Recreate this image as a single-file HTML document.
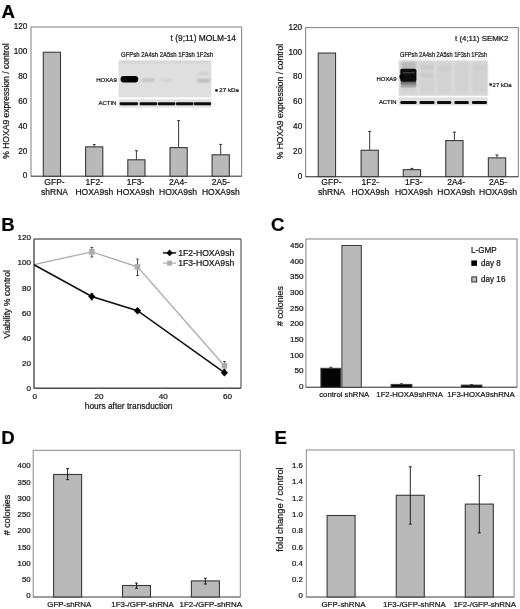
<!DOCTYPE html>
<html><head><meta charset="utf-8"><style>
html,body{margin:0;padding:0;background:#fff;}
body{width:520px;height:609px;overflow:hidden;}
svg{display:block;font-family:"Liberation Sans", sans-serif;filter:blur(0.3px);}
text{stroke:#1a1a1a;stroke-width:0.22px;}
</style></head><body>
<svg width="520" height="609" viewBox="0 0 520 609" font-family='"Liberation Sans", sans-serif'>
<rect width="520" height="609" fill="#fff"/>
<text x="1.6" y="17.5" font-size="18.6" text-anchor="start" font-weight="bold" fill="#000">A</text>
<text x="1.2" y="231" font-size="18.6" text-anchor="start" font-weight="bold" fill="#000">B</text>
<text x="271" y="231.3" font-size="18.6" text-anchor="start" font-weight="bold" fill="#000">C</text>
<text x="1.2" y="444.1" font-size="18.6" text-anchor="start" font-weight="bold" fill="#000">D</text>
<text x="274.6" y="443.5" font-size="18.6" text-anchor="start" font-weight="bold" fill="#000">E</text>
<rect x="31.0" y="27" width="210.6" height="149.2" fill="none" stroke="#8a8a8a" stroke-width="1.1"/>
<line x1="31.0" y1="176.2" x2="241.6" y2="176.2" stroke="#5a5a5a" stroke-width="1.1"/>
<text x="27.4" y="178.39999999999998" font-size="8.2" text-anchor="end" fill="#111">0</text>
<text x="27.4" y="153.5333333333333" font-size="8.2" text-anchor="end" fill="#111">20</text>
<text x="27.4" y="128.66666666666666" font-size="8.2" text-anchor="end" fill="#111">40</text>
<text x="27.4" y="103.8" font-size="8.2" text-anchor="end" fill="#111">60</text>
<text x="27.4" y="78.93333333333334" font-size="8.2" text-anchor="end" fill="#111">80</text>
<text x="27.4" y="54.06666666666668" font-size="8.2" text-anchor="end" fill="#111">100</text>
<text x="27.4" y="29.2" font-size="8.2" text-anchor="end" fill="#111">120</text>
<text x="9.3" y="101.1" font-size="8.55" text-anchor="middle" fill="#111" transform="rotate(-90 9.3 101.1)">% HOXA9 expression / control</text>
<rect x="43.3" y="52.239666666666665" width="17.2" height="123.96033333333332" fill="#b9b9b9" stroke="#3a3a3a" stroke-width="1.1"/>
<line x1="94.2" y1="144.61933333333332" x2="94.2" y2="146.85733333333332" stroke="#222" stroke-width="0.9"/>
<line x1="92.7" y1="144.61933333333332" x2="95.7" y2="144.61933333333332" stroke="#222" stroke-width="0.9"/>
<rect x="85.60000000000001" y="146.85733333333332" width="17.2" height="29.342666666666673" fill="#b9b9b9" stroke="#3a3a3a" stroke-width="1.1"/>
<line x1="136.4" y1="150.71166666666664" x2="136.4" y2="159.78799999999998" stroke="#222" stroke-width="0.9"/>
<line x1="134.9" y1="150.71166666666664" x2="137.9" y2="150.71166666666664" stroke="#222" stroke-width="0.9"/>
<rect x="127.80000000000001" y="159.78799999999998" width="17.2" height="16.412000000000006" fill="#b9b9b9" stroke="#3a3a3a" stroke-width="1.1"/>
<line x1="178.6" y1="120.62299999999999" x2="178.6" y2="147.60333333333332" stroke="#222" stroke-width="0.9"/>
<line x1="177.1" y1="120.62299999999999" x2="180.1" y2="120.62299999999999" stroke="#222" stroke-width="0.9"/>
<rect x="170.0" y="147.60333333333332" width="17.2" height="28.596666666666664" fill="#b9b9b9" stroke="#3a3a3a" stroke-width="1.1"/>
<line x1="220.7" y1="144.37066666666666" x2="220.7" y2="154.81466666666665" stroke="#222" stroke-width="0.9"/>
<line x1="219.2" y1="144.37066666666666" x2="222.2" y2="144.37066666666666" stroke="#222" stroke-width="0.9"/>
<rect x="212.1" y="154.81466666666665" width="17.2" height="21.385333333333335" fill="#b9b9b9" stroke="#3a3a3a" stroke-width="1.1"/>
<text x="54.5" y="185.0" font-size="8.5" text-anchor="middle" fill="#111">GFP-</text>
<text x="54.5" y="195.0" font-size="8.5" text-anchor="middle" fill="#111">shRNA</text>
<text x="94.3" y="185.0" font-size="8.5" text-anchor="middle" fill="#111">1F2-</text>
<text x="94.3" y="195.0" font-size="8.5" text-anchor="middle" fill="#111">HOXA9sh</text>
<text x="135.5" y="185.0" font-size="8.5" text-anchor="middle" fill="#111">1F3-</text>
<text x="135.5" y="195.0" font-size="8.5" text-anchor="middle" fill="#111">HOXA9sh</text>
<text x="178" y="185.0" font-size="8.5" text-anchor="middle" fill="#111">2A4-</text>
<text x="178" y="195.0" font-size="8.5" text-anchor="middle" fill="#111">HOXA9sh</text>
<text x="220.8" y="185.0" font-size="8.5" text-anchor="middle" fill="#111">2A5-</text>
<text x="220.8" y="195.0" font-size="8.5" text-anchor="middle" fill="#111">HOXA9sh</text>
<text x="236.0" y="41.0" font-size="8.4" text-anchor="end" fill="#111">t (9;11) MOLM-14</text>
<rect x="305.6" y="27.6" width="212.69999999999993" height="149.0" fill="none" stroke="#8a8a8a" stroke-width="1.1"/>
<line x1="305.6" y1="176.6" x2="518.3" y2="176.6" stroke="#5a5a5a" stroke-width="1.1"/>
<text x="302.2" y="178.79999999999998" font-size="8.2" text-anchor="end" fill="#111">0</text>
<text x="302.2" y="153.96666666666664" font-size="8.2" text-anchor="end" fill="#111">20</text>
<text x="302.2" y="129.13333333333333" font-size="8.2" text-anchor="end" fill="#111">40</text>
<text x="302.2" y="104.3" font-size="8.2" text-anchor="end" fill="#111">60</text>
<text x="302.2" y="79.46666666666665" font-size="8.2" text-anchor="end" fill="#111">80</text>
<text x="302.2" y="54.633333333333326" font-size="8.2" text-anchor="end" fill="#111">100</text>
<text x="302.2" y="29.799999999999994" font-size="8.2" text-anchor="end" fill="#111">120</text>
<text x="282.8" y="101.6" font-size="8.55" text-anchor="middle" fill="#111" transform="rotate(-90 282.8 101.6)">% HOXA9 expression / control</text>
<rect x="318.25" y="53.05416666666666" width="17.3" height="123.54583333333333" fill="#b9b9b9" stroke="#3a3a3a" stroke-width="1.1"/>
<line x1="369.7" y1="131.40333333333334" x2="369.7" y2="150.27666666666667" stroke="#222" stroke-width="0.9"/>
<line x1="368.2" y1="131.40333333333334" x2="371.2" y2="131.40333333333334" stroke="#222" stroke-width="0.9"/>
<rect x="361.09999999999997" y="150.27666666666667" width="17.2" height="26.323333333333323" fill="#b9b9b9" stroke="#3a3a3a" stroke-width="1.1"/>
<line x1="411.9" y1="168.405" x2="411.9" y2="169.64666666666665" stroke="#222" stroke-width="0.9"/>
<line x1="410.4" y1="168.405" x2="413.4" y2="168.405" stroke="#222" stroke-width="0.9"/>
<rect x="403.25" y="169.64666666666665" width="17.3" height="6.953333333333347" fill="#b9b9b9" stroke="#3a3a3a" stroke-width="1.1"/>
<line x1="454.4" y1="132.14833333333334" x2="454.4" y2="140.59166666666667" stroke="#222" stroke-width="0.9"/>
<line x1="452.9" y1="132.14833333333334" x2="455.9" y2="132.14833333333334" stroke="#222" stroke-width="0.9"/>
<rect x="445.75" y="140.59166666666667" width="17.3" height="36.008333333333326" fill="#b9b9b9" stroke="#3a3a3a" stroke-width="1.1"/>
<line x1="497.0" y1="154.995" x2="497.0" y2="157.85083333333333" stroke="#222" stroke-width="0.9"/>
<line x1="495.5" y1="154.995" x2="498.5" y2="154.995" stroke="#222" stroke-width="0.9"/>
<rect x="488.35" y="157.85083333333333" width="17.3" height="18.749166666666667" fill="#b9b9b9" stroke="#3a3a3a" stroke-width="1.1"/>
<text x="331.5" y="185.0" font-size="8.5" text-anchor="middle" fill="#111">GFP-</text>
<text x="331.5" y="195.0" font-size="8.5" text-anchor="middle" fill="#111">shRNA</text>
<text x="370.3" y="185.0" font-size="8.5" text-anchor="middle" fill="#111">1F2-</text>
<text x="370.3" y="195.0" font-size="8.5" text-anchor="middle" fill="#111">HOXA9sh</text>
<text x="413.8" y="185.0" font-size="8.5" text-anchor="middle" fill="#111">1F3-</text>
<text x="413.8" y="195.0" font-size="8.5" text-anchor="middle" fill="#111">HOXA9sh</text>
<text x="456.2" y="185.0" font-size="8.5" text-anchor="middle" fill="#111">2A4-</text>
<text x="456.2" y="195.0" font-size="8.5" text-anchor="middle" fill="#111">HOXA9sh</text>
<text x="498.0" y="185.0" font-size="8.5" text-anchor="middle" fill="#111">2A5-</text>
<text x="498.0" y="195.0" font-size="8.5" text-anchor="middle" fill="#111">HOXA9sh</text>
<text x="508.4" y="41.0" font-size="7.9" text-anchor="end" fill="#111">t (4;11) SEMK2</text>
<defs><filter id="b1" x="-50%" y="-50%" width="200%" height="200%"><feGaussianBlur stdDeviation="0.9"/></filter><filter id="b2" x="-50%" y="-50%" width="200%" height="200%"><feGaussianBlur stdDeviation="1.4"/></filter><filter id="b3" x="-50%" y="-50%" width="200%" height="200%"><feGaussianBlur stdDeviation="0.55"/></filter><filter id="b4" x="-50%" y="-50%" width="200%" height="200%"><feGaussianBlur stdDeviation="0.35"/></filter></defs>
<rect x="118.6" y="60.6" width="92.8" height="36.7" fill="#dfdfdf" stroke="none" stroke-width="1"/>
<rect x="118.6" y="99.3" width="92.8" height="8.2" fill="#e2e2e2" stroke="none" stroke-width="1"/>
<rect x="119.6" y="61.1" width="90.8" height="2.2" rx="0.5" fill="#d2d2d2" filter="url(#b1)"/>
<rect x="120.6" y="76.0" width="17.6" height="6.6" rx="3.0" fill="#000" filter="url(#b4)"/>
<rect x="141.5" y="78.6" width="13.5" height="3.4" rx="1.7" fill="#c4c4c4" filter="url(#b1)"/>
<rect x="160" y="79.2" width="12" height="2.5" rx="1.25" fill="#d0d0d0" filter="url(#b1)"/>
<rect x="196.8" y="79.0" width="13.4" height="3.6" rx="1.8" fill="#bababa" filter="url(#b1)"/>
<rect x="197.5" y="72.4" width="12" height="2.2" rx="1.1" fill="#c8c8c8" filter="url(#b1)"/>
<rect x="119.6" y="102.2" width="18.4" height="3.0" rx="1.2" fill="#0a0a0a" filter="url(#b4)"/>
<rect x="139.6" y="102.2" width="17.6" height="3.0" rx="1.2" fill="#0a0a0a" filter="url(#b4)"/>
<rect x="157.8" y="102.2" width="17.6" height="3.0" rx="1.2" fill="#0a0a0a" filter="url(#b4)"/>
<rect x="175.9" y="102.2" width="17.6" height="3.0" rx="1.2" fill="#0a0a0a" filter="url(#b4)"/>
<rect x="193.9" y="102.2" width="17.2" height="3.0" rx="1.2" fill="#0a0a0a" filter="url(#b4)"/>
<text x="121.0" y="56.8" font-size="6.4" text-anchor="start" fill="#111" textLength="92" lengthAdjust="spacingAndGlyphs">GFPsh 2A4sh 2A5sh 1F3sh 1F2sh</text>
<text x="116.8" y="82.2" font-size="6.1" text-anchor="end" fill="#111">HOXA9</text>
<text x="116.4" y="104.8" font-size="6.0" text-anchor="end" fill="#111">ACTIN</text>
<rect x="215.3" y="89.2" width="2.4" height="2.4" fill="#111" stroke="none" stroke-width="1"/>
<text x="219.3" y="92.3" font-size="6.2" text-anchor="start" fill="#111">27 kDa</text>
<rect x="398.8" y="60.6" width="89.0" height="35.2" fill="#dcdcdc" stroke="none" stroke-width="1"/>
<rect x="398.8" y="97.4" width="89.0" height="8.0" fill="#e0e0e0" stroke="none" stroke-width="1"/>
<rect x="400.6" y="61.6" width="16" height="32.2" rx="1" fill="#d2d2d2" filter="url(#b2)"/>
<rect x="419.5" y="61.6" width="15" height="32.2" rx="1" fill="#d2d2d2" filter="url(#b2)"/>
<rect x="437.0" y="61.6" width="14.5" height="32.2" rx="1" fill="#d2d2d2" filter="url(#b2)"/>
<rect x="454.5" y="61.6" width="14.5" height="32.2" rx="1" fill="#d2d2d2" filter="url(#b2)"/>
<rect x="472.0" y="61.6" width="15" height="32.2" rx="1" fill="#d2d2d2" filter="url(#b2)"/>
<defs><linearGradient id="sm" x1="0" y1="0" x2="0" y2="1"><stop offset="0" stop-color="#4a4a4a"/><stop offset="0.5" stop-color="#8a8a8a"/><stop offset="1" stop-color="#c4c4c4"/></linearGradient></defs>
<rect x="401.5" y="62" width="14.5" height="7.5" rx="1" fill="#bababa" filter="url(#b1)"/>
<rect x="400.8" y="80.5" width="15.4" height="7.6" rx="1.5" fill="url(#sm)" filter="url(#b3)"/>
<rect x="400.3" y="68.8" width="16.1" height="12.8" rx="1.6" fill="#0a0a0a" filter="url(#b4)"/>
<rect x="399.4" y="74.5" width="4" height="4.5" rx="2" fill="#000" filter="url(#b4)"/>
<rect x="402.5" y="72.0" width="12.5" height="1.4" rx="0.7" fill="#3a3a3a" filter="url(#b3)"/>
<rect x="420.5" y="66" width="13" height="2.6" rx="1.3" fill="#c4c4c4" filter="url(#b1)"/>
<rect x="420.5" y="74.2" width="13" height="2.4" rx="1.2" fill="#c6c6c6" filter="url(#b1)"/>
<rect x="437.5" y="67" width="13" height="2.4" rx="1.2" fill="#cacaca" filter="url(#b1)"/>
<rect x="472.5" y="67" width="13" height="2.4" rx="1.2" fill="#cacaca" filter="url(#b1)"/>
<rect x="400.3" y="101.0" width="16.3" height="3.0" rx="1.2" fill="#0a0a0a" filter="url(#b4)"/>
<rect x="419.5" y="101.0" width="15" height="3.0" rx="1.2" fill="#0a0a0a" filter="url(#b4)"/>
<rect x="437.0" y="101.0" width="14.3" height="3.0" rx="1.2" fill="#0a0a0a" filter="url(#b4)"/>
<rect x="454.4" y="101.0" width="14.4" height="3.0" rx="1.2" fill="#0a0a0a" filter="url(#b4)"/>
<rect x="471.9" y="101.0" width="15" height="3.0" rx="1.2" fill="#0a0a0a" filter="url(#b4)"/>
<text x="400.0" y="56.9" font-size="6.4" text-anchor="start" fill="#111" textLength="87" lengthAdjust="spacingAndGlyphs">GFPsh 2A4sh 2A5sh 1F3sh 1F2sh</text>
<text x="396.6" y="80.6" font-size="5.9" text-anchor="end" fill="#111">HOXA9</text>
<text x="396.6" y="104.2" font-size="5.9" text-anchor="end" fill="#111">ACTIN</text>
<rect x="489.5" y="83.4" width="2.3" height="2.3" fill="#111" stroke="none" stroke-width="1"/>
<text x="492.6" y="86.7" font-size="6.0" text-anchor="start" fill="#111">27 kDa</text>
<line x1="34.0" y1="239.0" x2="241.0" y2="239.0" stroke="#6a6a6a" stroke-width="1.3"/>
<line x1="241.0" y1="239.0" x2="241.0" y2="388.2" stroke="#6a6a6a" stroke-width="1.3"/>
<line x1="34.0" y1="239.0" x2="34.0" y2="388.2" stroke="#4a4a4a" stroke-width="1.4"/>
<line x1="34.0" y1="388.2" x2="241.0" y2="388.2" stroke="#4a4a4a" stroke-width="1.4"/>
<text x="31.0" y="391.2" font-size="8.1" text-anchor="end" fill="#111">0</text>
<text x="31.0" y="366.05" font-size="8.1" text-anchor="end" fill="#111">20</text>
<text x="31.0" y="340.9" font-size="8.1" text-anchor="end" fill="#111">40</text>
<text x="31.0" y="315.75" font-size="8.1" text-anchor="end" fill="#111">60</text>
<text x="31.0" y="290.59999999999997" font-size="8.1" text-anchor="end" fill="#111">80</text>
<text x="31.0" y="265.45" font-size="8.1" text-anchor="end" fill="#111">100</text>
<text x="31.0" y="240.3" font-size="8.1" text-anchor="end" fill="#111">120</text>
<text x="34.8" y="398.7" font-size="8.1" text-anchor="middle" fill="#111">0</text>
<line x1="34.0" y1="388.2" x2="34.0" y2="389.7" stroke="#aaa" stroke-width="0.6"/>
<text x="99.0" y="398.7" font-size="8.1" text-anchor="middle" fill="#111">20</text>
<line x1="98.2" y1="388.2" x2="98.2" y2="389.7" stroke="#aaa" stroke-width="0.6"/>
<text x="163.20000000000002" y="398.7" font-size="8.1" text-anchor="middle" fill="#111">40</text>
<line x1="162.4" y1="388.2" x2="162.4" y2="389.7" stroke="#aaa" stroke-width="0.6"/>
<text x="227.4" y="398.7" font-size="8.1" text-anchor="middle" fill="#111">60</text>
<line x1="226.6" y1="388.2" x2="226.6" y2="389.7" stroke="#aaa" stroke-width="0.6"/>
<text x="128.6" y="409.2" font-size="8.35" text-anchor="middle" fill="#111">hours after transduction</text>
<text x="10.3" y="304.2" font-size="8.7" text-anchor="middle" fill="#111" transform="rotate(-90 10.3 304.2)">Viability % control</text>
<polyline points="34.00,264.70 91.80,251.80 137.50,266.90 224.40,365.80" fill="none" stroke="#acacac" stroke-width="1.3"/>
<polyline points="34.00,264.70 91.80,296.50 137.50,310.70 224.40,372.70" fill="none" stroke="#111" stroke-width="1.6"/>
<line x1="91.8" y1="247.4" x2="91.8" y2="257.0" stroke="#222" stroke-width="0.8"/>
<line x1="90.5" y1="247.4" x2="93.1" y2="247.4" stroke="#222" stroke-width="0.8"/>
<line x1="90.5" y1="257.0" x2="93.1" y2="257.0" stroke="#222" stroke-width="0.8"/>
<rect x="89.0" y="249.0" width="5.6" height="5.6" fill="#acacac" stroke="none" stroke-width="1"/>
<line x1="137.5" y1="259.1" x2="137.5" y2="275.5" stroke="#222" stroke-width="0.8"/>
<line x1="136.2" y1="259.1" x2="138.8" y2="259.1" stroke="#222" stroke-width="0.8"/>
<line x1="136.2" y1="275.5" x2="138.8" y2="275.5" stroke="#222" stroke-width="0.8"/>
<rect x="134.7" y="264.09999999999997" width="5.6" height="5.6" fill="#acacac" stroke="none" stroke-width="1"/>
<line x1="224.4" y1="361.5" x2="224.4" y2="369.5" stroke="#222" stroke-width="0.8"/>
<line x1="223.1" y1="361.5" x2="225.70000000000002" y2="361.5" stroke="#222" stroke-width="0.8"/>
<line x1="223.1" y1="369.5" x2="225.70000000000002" y2="369.5" stroke="#222" stroke-width="0.8"/>
<rect x="221.6" y="363.0" width="5.6" height="5.6" fill="#acacac" stroke="none" stroke-width="1"/>
<line x1="91.8" y1="293.4" x2="91.8" y2="299.8" stroke="#111" stroke-width="0.8"/>
<line x1="90.6" y1="293.4" x2="93.0" y2="293.4" stroke="#111" stroke-width="0.8"/>
<line x1="90.6" y1="299.8" x2="93.0" y2="299.8" stroke="#111" stroke-width="0.8"/>
<polygon points="91.8,292.8 95.39999999999999,296.5 91.8,300.2 88.2,296.5" fill="#000"/>
<line x1="137.5" y1="308.8" x2="137.5" y2="312.6" stroke="#111" stroke-width="0.8"/>
<line x1="136.3" y1="308.8" x2="138.7" y2="308.8" stroke="#111" stroke-width="0.8"/>
<line x1="136.3" y1="312.6" x2="138.7" y2="312.6" stroke="#111" stroke-width="0.8"/>
<polygon points="137.5,307.0 141.1,310.7 137.5,314.4 133.9,310.7" fill="#000"/>
<line x1="224.4" y1="370.8" x2="224.4" y2="374.6" stroke="#111" stroke-width="0.8"/>
<line x1="223.20000000000002" y1="370.8" x2="225.6" y2="370.8" stroke="#111" stroke-width="0.8"/>
<line x1="223.20000000000002" y1="374.6" x2="225.6" y2="374.6" stroke="#111" stroke-width="0.8"/>
<polygon points="224.4,369.0 228.0,372.7 224.4,376.4 220.8,372.7" fill="#000"/>
<line x1="163" y1="252.9" x2="176.2" y2="252.9" stroke="#111" stroke-width="1.5"/>
<polygon points="169.6,249.6 172.9,252.9 169.6,256.2 166.29999999999998,252.9" fill="#000"/>
<text x="178.2" y="255.7" font-size="8.65" text-anchor="start" fill="#111">1F2-HOXA9sh</text>
<line x1="163" y1="263.1" x2="176.2" y2="263.1" stroke="#acacac" stroke-width="1.2"/>
<rect x="167.1" y="260.6" width="5" height="5" fill="#acacac" stroke="none" stroke-width="1"/>
<text x="178.2" y="266.0" font-size="8.65" text-anchor="start" fill="#111">1F3-HOXA9sh</text>
<rect x="305.9" y="239" width="211.10000000000002" height="148.3" fill="none" stroke="#8a8a8a" stroke-width="1.1"/>
<line x1="305.9" y1="387.3" x2="517.0" y2="387.3" stroke="#5a5a5a" stroke-width="1.1"/>
<text x="303.4" y="389.2" font-size="8.1" text-anchor="end" fill="#111">0</text>
<text x="303.4" y="373.495" font-size="8.1" text-anchor="end" fill="#111">50</text>
<text x="303.4" y="357.78999999999996" font-size="8.1" text-anchor="end" fill="#111">100</text>
<text x="303.4" y="342.085" font-size="8.1" text-anchor="end" fill="#111">150</text>
<text x="303.4" y="326.38" font-size="8.1" text-anchor="end" fill="#111">200</text>
<text x="303.4" y="310.675" font-size="8.1" text-anchor="end" fill="#111">250</text>
<text x="303.4" y="294.96999999999997" font-size="8.1" text-anchor="end" fill="#111">300</text>
<text x="303.4" y="279.265" font-size="8.1" text-anchor="end" fill="#111">350</text>
<text x="303.4" y="263.56" font-size="8.1" text-anchor="end" fill="#111">400</text>
<text x="303.4" y="247.85500000000002" font-size="8.1" text-anchor="end" fill="#111">450</text>
<text x="283.4" y="306" font-size="8.9" text-anchor="middle" fill="#111" transform="rotate(-90 283.4 306)"># colonies</text>
<line x1="330.85" y1="367.2" x2="330.85" y2="368.3" stroke="#111" stroke-width="0.8"/>
<line x1="329.35" y1="367.2" x2="332.35" y2="367.2" stroke="#111" stroke-width="0.8"/>
<rect x="320.9" y="368.3" width="19.900000000000034" height="19.0" fill="#050505" stroke="#3a3a3a" stroke-width="1.0"/>
<rect x="341.9" y="245.5" width="19.400000000000034" height="141.8" fill="#b9b9b9" stroke="#3a3a3a" stroke-width="1.0"/>
<line x1="401.5" y1="383.8" x2="401.5" y2="384.4" stroke="#111" stroke-width="0.8"/>
<line x1="400.0" y1="383.8" x2="403.0" y2="383.8" stroke="#111" stroke-width="0.8"/>
<rect x="391.1" y="384.4" width="20.799999999999955" height="2.900000000000034" fill="#050505" stroke="#3a3a3a" stroke-width="1.0"/>
<line x1="471.6" y1="384.6" x2="471.6" y2="385.1" stroke="#111" stroke-width="0.8"/>
<line x1="470.1" y1="384.6" x2="473.1" y2="384.6" stroke="#111" stroke-width="0.8"/>
<rect x="461.3" y="385.1" width="20.599999999999966" height="2.1999999999999886" fill="#050505" stroke="#3a3a3a" stroke-width="1.0"/>
<text x="344.2" y="397.1" font-size="7.9" text-anchor="middle" fill="#111" textLength="50" lengthAdjust="spacingAndGlyphs">control shRNA</text>
<text x="409.6" y="397.1" font-size="7.9" text-anchor="middle" fill="#111" textLength="66.5" lengthAdjust="spacingAndGlyphs">1F2-HOXA9shRNA</text>
<text x="481.0" y="397.1" font-size="7.9" text-anchor="middle" fill="#111" textLength="67.5" lengthAdjust="spacingAndGlyphs">1F3-HOXA9shRNA</text>
<text x="471" y="252.7" font-size="8.15" text-anchor="start" fill="#111">L-GMP</text>
<rect x="471.3" y="260.4" width="5.7" height="5.5" fill="#050505" stroke="none" stroke-width="1"/>
<text x="481" y="266.0" font-size="8.15" text-anchor="start" fill="#111">day 8</text>
<rect x="471.8" y="276.9" width="4.9" height="5.1" fill="#b9b9b9" stroke="#222" stroke-width="0.9"/>
<text x="481" y="282.2" font-size="8.15" text-anchor="start" fill="#111">day 16</text>
<rect x="33.2" y="450.3" width="207.10000000000002" height="146.7" fill="none" stroke="#8a8a8a" stroke-width="1.0"/>
<line x1="33.2" y1="597" x2="240.3" y2="597" stroke="#777" stroke-width="1.0"/>
<text x="30.6" y="598.4" font-size="7.8" text-anchor="end" fill="#111">0</text>
<text x="30.6" y="582.15" font-size="7.8" text-anchor="end" fill="#111">50</text>
<text x="30.6" y="565.9" font-size="7.8" text-anchor="end" fill="#111">100</text>
<text x="30.6" y="549.65" font-size="7.8" text-anchor="end" fill="#111">150</text>
<text x="30.6" y="533.4" font-size="7.8" text-anchor="end" fill="#111">200</text>
<text x="30.6" y="517.15" font-size="7.8" text-anchor="end" fill="#111">250</text>
<text x="30.6" y="500.9" font-size="7.8" text-anchor="end" fill="#111">300</text>
<text x="30.6" y="484.65" font-size="7.8" text-anchor="end" fill="#111">350</text>
<text x="30.6" y="468.4" font-size="7.8" text-anchor="end" fill="#111">400</text>
<rect x="53.599999999999994" y="474.475" width="28" height="122.52499999999998" fill="#b9b9b9" stroke="#3a3a3a" stroke-width="1.1"/>
<line x1="67.6" y1="468.625" x2="67.6" y2="479.675" stroke="#111" stroke-width="0.9"/>
<line x1="66.1" y1="468.625" x2="69.1" y2="468.625" stroke="#111" stroke-width="0.9"/>
<line x1="66.1" y1="479.675" x2="69.1" y2="479.675" stroke="#111" stroke-width="0.9"/>
<rect x="122.5" y="585.495" width="28" height="11.504999999999995" fill="#b9b9b9" stroke="#3a3a3a" stroke-width="1.1"/>
<line x1="136.5" y1="583.09" x2="136.5" y2="588.29" stroke="#111" stroke-width="0.9"/>
<line x1="135.0" y1="583.09" x2="138.0" y2="583.09" stroke="#111" stroke-width="0.9"/>
<line x1="135.0" y1="588.29" x2="138.0" y2="588.29" stroke="#111" stroke-width="0.9"/>
<rect x="191.4" y="580.9125" width="28" height="16.087499999999977" fill="#b9b9b9" stroke="#3a3a3a" stroke-width="1.1"/>
<line x1="205.4" y1="578.215" x2="205.4" y2="584.0" stroke="#111" stroke-width="0.9"/>
<line x1="203.9" y1="578.215" x2="206.9" y2="578.215" stroke="#111" stroke-width="0.9"/>
<line x1="203.9" y1="584.0" x2="206.9" y2="584.0" stroke="#111" stroke-width="0.9"/>
<text x="69.3" y="606.6" font-size="7.95" text-anchor="middle" fill="#111">GFP-shRNA</text>
<text x="142.6" y="606.6" font-size="7.95" text-anchor="middle" fill="#111">1F3-/GFP-shRNA</text>
<text x="210.8" y="606.6" font-size="7.95" text-anchor="middle" fill="#111">1F2-/GFP-shRNA</text>
<text x="10.1" y="514.9" font-size="9.0" text-anchor="middle" fill="#111" transform="rotate(-90 10.1 514.9)"># colonies</text>
<rect x="306.3" y="450" width="207.8" height="147" fill="none" stroke="#8a8a8a" stroke-width="1.0"/>
<line x1="306.3" y1="597" x2="514.1" y2="597" stroke="#777" stroke-width="1.0"/>
<text x="302.8" y="598.4" font-size="7.8" text-anchor="end" fill="#111">0</text>
<text x="302.8" y="582.1" font-size="7.8" text-anchor="end" fill="#111">0.2</text>
<text x="302.8" y="565.8" font-size="7.8" text-anchor="end" fill="#111">0.4</text>
<text x="302.8" y="549.5" font-size="7.8" text-anchor="end" fill="#111">0.6</text>
<text x="302.8" y="533.1999999999999" font-size="7.8" text-anchor="end" fill="#111">0.8</text>
<text x="302.8" y="516.9" font-size="7.8" text-anchor="end" fill="#111">1.0</text>
<text x="302.8" y="500.59999999999997" font-size="7.8" text-anchor="end" fill="#111">1.2</text>
<text x="302.8" y="484.29999999999995" font-size="7.8" text-anchor="end" fill="#111">1.4</text>
<text x="302.8" y="468.0" font-size="7.8" text-anchor="end" fill="#111">1.6</text>
<rect x="327.1" y="515.5" width="28" height="81.5" fill="#b9b9b9" stroke="#3a3a3a" stroke-width="1.1"/>
<rect x="396.3" y="495.288" width="28" height="101.71199999999999" fill="#b9b9b9" stroke="#3a3a3a" stroke-width="1.1"/>
<line x1="410.3" y1="466.76300000000003" x2="410.3" y2="524.139" stroke="#111" stroke-width="0.9"/>
<line x1="408.8" y1="466.76300000000003" x2="411.8" y2="466.76300000000003" stroke="#111" stroke-width="0.9"/>
<line x1="408.8" y1="524.139" x2="411.8" y2="524.139" stroke="#111" stroke-width="0.9"/>
<rect x="465.3" y="504.09000000000003" width="28" height="92.90999999999997" fill="#b9b9b9" stroke="#3a3a3a" stroke-width="1.1"/>
<line x1="479.3" y1="475.565" x2="479.3" y2="532.8595" stroke="#111" stroke-width="0.9"/>
<line x1="477.8" y1="475.565" x2="480.8" y2="475.565" stroke="#111" stroke-width="0.9"/>
<line x1="477.8" y1="532.8595" x2="480.8" y2="532.8595" stroke="#111" stroke-width="0.9"/>
<text x="343.5" y="606.6" font-size="7.95" text-anchor="middle" fill="#111">GFP-shRNA</text>
<text x="414.4" y="606.6" font-size="7.95" text-anchor="middle" fill="#111">1F3-/GFP-shRNA</text>
<text x="484.7" y="606.6" font-size="7.95" text-anchor="middle" fill="#111">1F2-/GFP-shRNA</text>
<text x="283.4" y="509.5" font-size="9.4" text-anchor="middle" fill="#111" transform="rotate(-90 283.4 509.5)">fold change / control</text>
</svg>
</body></html>
